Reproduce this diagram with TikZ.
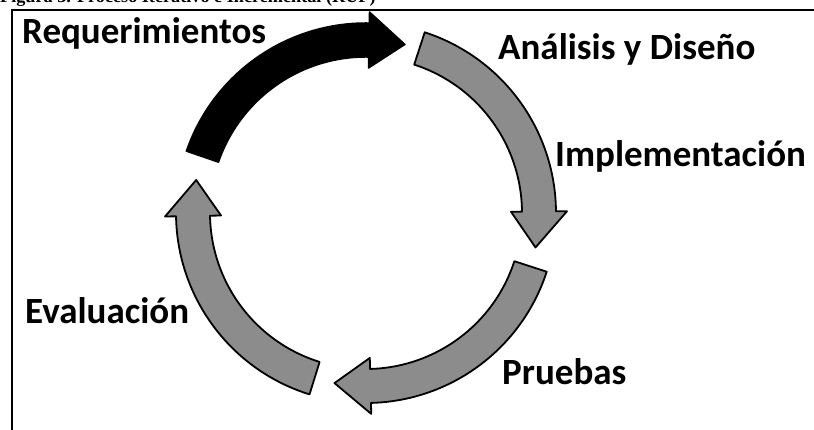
\documentclass[tikz,border=0pt]{standalone}
\usepackage{fontspec}
\setmainfont{Liberation Serif}
\newfontfamily\labfont[BoldFont={Carlito Bold}]{Carlito}
\tikzset{
  lab/.style={inner sep=0pt, anchor=base west, font=\labfont\bfseries\fontsize{37}{40}\selectfont},
  ttl/.style={inner sep=0pt, anchor=base west, font=\bfseries\fontsize{18.2}{20}\selectfont},
  frameline/.style={line width=1.6pt, black},
  blackarrow/.style={fill=black, draw=black, line width=1.5pt, line join=round},
  grayarrow/.style={fill=black!45, draw=black, line width=1.8pt, line join=round}
}
% #1 style, #2 tail angle, #3 tip angle (clockwise: #3 < #2)
\newcommand\cyclearrow[3]{%
  \pgfmathsetmacro\hb{#3+12}%
  \path[#1] (#2:190) arc[start angle=#2, end angle=\hb, radius=190]
    -- (\hb:201) -- (#3:173) -- (\hb:145) -- (\hb:156)
    arc[start angle=\hb, end angle=#2, radius=156] -- cycle;}
\begin{document}
\begin{tikzpicture}[x=1pt, y=1pt]
\useasboundingbox (0,0) rectangle (814,430);
\fill[white] (0,0) rectangle (814,430);
% frame
\coordinate (fbl) at (12,0);
\coordinate (ftl) at (12,420);
\coordinate (ftr) at (814,420);
\draw[frameline] (fbl) -- (ftl) -- (ftr);
% title (cut off at the top)
\node[ttl] (title) at (0,427) {Figura 3. Proceso Iterativo e Incremental (RUP)};
% cycle arrows
\begin{scope}[shift={(366,217)}]
  \cyclearrow{blackarrow}{161}{77}
  \cyclearrow{grayarrow}{72}{-11.5}
  \cyclearrow{grayarrow}{-18}{-100.5}
  \cyclearrow{grayarrow}{252.7}{169}
\end{scope}
% labels
\node[lab] (req) at (22,386) {Requerimientos};
\node[lab] (ana) at (498,370) {Análisis y Diseño};
\node[lab] (imp) at (555,263) {Implementación};
\node[lab] (pru) at (502,45) {Pruebas};
\node[lab] (eva) at (25,106) {Evaluación};
\end{tikzpicture}
\end{document}
